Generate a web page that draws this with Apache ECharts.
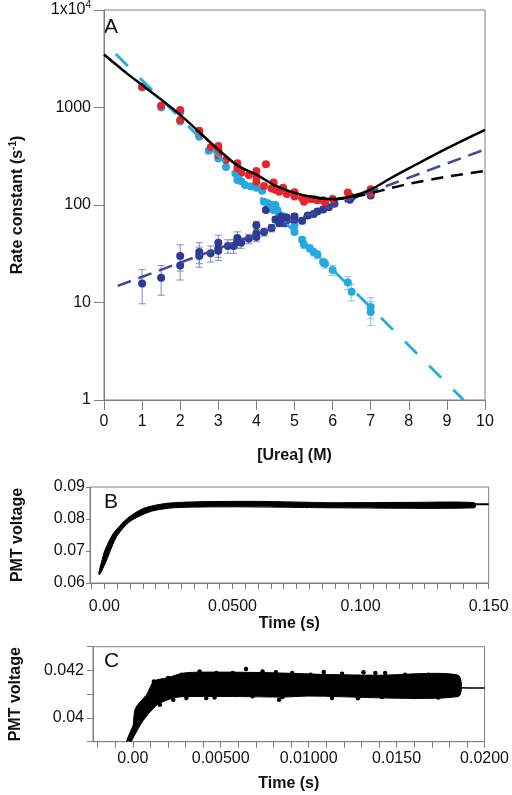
<!DOCTYPE html>
<html><head><meta charset="utf-8">
<script src="https://cdn.jsdelivr.net/npm/echarts@6/dist/echarts.min.js"></script>
<style>html,body{margin:0;padding:0;background:#fff}#c{width:512px;height:795px}</style>
</head><body><div id="c"></div>
<script>
// ---------- Panel A data ----------
const redX = [1.0,1.5,2.0,2.0,2.5,2.5,2.8,3.0,3.0,3.0,3.2,3.5,3.5,3.6,3.8,4.0,4.0,4.0,4.2,4.25,4.4,4.45,4.5,4.6,4.7,4.8,5.0,5.0,5.2,5.25,5.4,5.5,5.6,5.75,5.8,6.0,6.4,6.45,7.0,7.0];
const redY = [1630,1040,940,745,578,535,391,403,361,326,290,268,240,214,203,223,195,173,157,262,148,170,143,137,150,130,135,122,117,108,115,115,112,112,107,115,134,122,145,132];

const lightX = [1.0,1.5,2.0,2.0,2.5,2.5,2.75,3.0,3.0,3.2,3.45,3.5,3.6,3.7,3.85,4.0,4.15,4.2,4.3,4.4,4.45,4.5,4.55,4.6,4.75,5.0,5.0,5.2,5.25,5.4,5.5,5.6,5.75,5.8,6.0,6.4,6.5,7.0,7.0];
const lightY = [1600,1000,900,720,560,500,360,370,300,245,210,180,175,160,155,150,140,108,104,100,89,100,89,80,76,62,53,44,39,36,33,31,26,25,21.5,16,12.9,9.0,8.0];
const lightErr = [5,5,5,5,5,5,5,5,5,5,5,4,4,4,4,4,4,4,4,4,3,3,3,3,3,3,3,3,3,3,3,3,2.5,2.5,2.6,2.4,2.5,2.2,2.2];

const darkX = [1.0,1.5,2.0,2.0,2.5,2.5,2.8,3.0,3.0,3.0,3.25,3.4,3.5,3.5,3.6,3.8,4.0,4.0,4.0,4.2,4.25,4.4,4.5,4.6,4.65,4.75,4.8,5.0,5.0,5.2,5.35,5.5,5.6,5.75,5.9,6.05,6.45,6.5,7.0];
const darkY = [15.7,17.9,30,24,33,30,32,41,36,34,38,38,46,42,41,45,62,51,47,53,89,58,71,65,76,65,74,76,71,69,78,81,86,90,95,103,113,120,125];
const darkErr = [6,6,9,7,8,7,6,8,7,7,6,6,7,6,5,5,6,5,5,5,5,5,5,5,5,5,5,5,5,5,5,5,5,5,5,5,5,5,5];

const fitSolid = [[0,3500],[0.6,2240],[1,1700],[2,840],[3,370],[3.5,255],[4,205],[4.5,158],[5,133],[5.5,120],[6,115],[6.5,123],[7,144],[7.5,186],[8,237],[9,380],[10,588]];
const fitBlackDash = [[5.5,120],[6,114],[6.5,120],[7,132],[7.5,148],[8,165],[9,195],[10,223]];
const fitDarkDash = [[0.36,14.8],[10,372]];
const fitLightDash = [[0.31,3540],[9.44,1]];

// ---------- Panel B data ----------
const bUpper = [[-0.0020,0.0633],[-0.0010,0.0665],[0,0.0698],[0.0035,0.0755],[0.0088,0.0799],[0.0152,0.0833],[0.0244,0.0849],[0.0374,0.0854],[0.06,0.0855],[0.0895,0.0851],[0.12,0.0852],[0.1445,0.0851]];
const bLower = [[-0.0020,0.0625],[-0.0010,0.0638],[0.0009,0.0672],[0.0048,0.0745],[0.0100,0.0792],[0.0179,0.0823],[0.0270,0.0835],[0.0504,0.0838],[0.0895,0.0835],[0.1445,0.0835]];
const bFit = [[-0.002,0.0630],[0,0.0686],[0.005,0.0764],[0.01,0.0806],[0.015,0.0828],[0.02,0.0838],[0.03,0.0844],[0.05,0.0846],[0.15,0.0846]];
const bTicks = [-0.005,0,0.005,0.01,0.015,0.02,0.025,0.03,0.035,0.04,0.045,0.05,0.055,0.06,0.065,0.07,0.075,0.08,0.085,0.09,0.095,0.1,0.105,0.11,0.115,0.12,0.125,0.13,0.135,0.14,0.145,0.15];
const bLabelVals = [0,0.05,0.1,0.15];
const bLabelTexts = ['0.00','0.0500','0.100','0.150'];
const bYLabels = ['0.06','0.07','0.08','0.09'];

// ---------- Panel C data ----------
const cUpper = [[-0.0003,0.0391],[0,0.0396],[0.00015,0.0404],[0.0008,0.0410],[0.0012,0.04155],[0.0019,0.04168],[0.003,0.0419],[0.005,0.04193],[0.008,0.0419],[0.011,0.04183],[0.014,0.0418],[0.0185,0.0418]];
const cLower = [[-0.0001,0.0390],[0.00005,0.0392],[0.0006,0.0399],[0.0014,0.04056],[0.0023,0.04084],[0.003,0.0409],[0.006,0.0409],[0.0085,0.04088],[0.010,0.04092],[0.0185,0.0409]];
const cDots = [[0.0012,0.04154],[0.0038,0.04196],[0.00644,0.04206],[0.00738,0.04196],[0.00814,0.04192],[0.01086,0.04193],[0.01312,0.04192],[0.01379,0.04189],
  [0.00201,0.04168],[0.00277,0.04182],[0.00475,0.04189],[0.00568,0.04189],[0.00907,0.04189],[0.01011,0.04182],[0.0119,0.04186],[0.01435,0.04189],[0.01548,0.04182],[0.0168,0.04182],[0.01774,0.04178],
  [0.0006,0.04007],[0.00154,0.04056],[0.0023,0.04077],[0.00305,0.04084],[0.00418,0.04084],[0.00465,0.04086],[0.00681,0.04091],[0.00832,0.04077],[0.00851,0.04088],[0.01133,0.04084],[0.0128,0.04083],[0.01416,0.04088],[0.01605,0.04088],[0.01736,0.04086],[0.01755,0.04091]];
const cFit = [[-0.00034,0.0390],[0,0.0396],[0.0005,0.0402],[0.001,0.0406],[0.002,0.0410],[0.003,0.04125],[0.005,0.04135],[0.01,0.04132],[0.0185,0.04127],[0.02,0.04126]];
const cTicks = [-0.002,-0.001,0,0.001,0.002,0.003,0.004,0.005,0.006,0.007,0.008,0.009,0.01,0.011,0.012,0.013,0.014,0.015,0.016,0.017,0.018,0.019,0.02];
const cLabelVals = [0,0.005,0.01,0.015,0.02];
const cLabelTexts = ['0.00','0.00500','0.01000','0.0150','0.0200'];
const cYTicks = [0.039,0.040,0.041,0.042,0.043];
const cYLabelVals = [0.040,0.042];
const cYLabelTexts = ['0.04','0.042'];

// ---------- styling ----------
const FONT = 'Liberation Sans, Arial, sans-serif';
const AX = '#808080';
const RED = '#E4262C', LBLUE = '#25A8E0', DBLUE = '#2F3A93';
const lbl = (vals, texts) => v => { for (let i=0;i<vals.length;i++) if (Math.abs(vals[i]-v) < 1e-7) return texts[i]; return ''; };
const zip = (xs, ys) => xs.map((x,i)=>[x, ys[i]]);

function errSeries(xs, ys, errs, color, z) {
  return {
    type:'custom', xAxisIndex:0, yAxisIndex:0, z:z, silent:true,
    data: xs.map((x,i)=>[x, ys[i]-errs[i], ys[i]+errs[i]]),
    encode:{x:0, y:[1,2]},
    renderItem(params, api){
      const x = api.value(0);
      const p1 = api.coord([x, api.value(2)]), p2 = api.coord([x, api.value(1)]);
      const w = 3.5, st = {stroke:color, lineWidth:1};
      return {type:'group', children:[
        {type:'line', shape:{x1:p1[0],y1:p1[1],x2:p2[0],y2:p2[1]}, style:st},
        {type:'line', shape:{x1:p1[0]-w,y1:p1[1],x2:p1[0]+w,y2:p1[1]}, style:st},
        {type:'line', shape:{x1:p2[0]-w,y1:p2[1],x2:p2[0]+w,y2:p2[1]}, style:st}
      ]};
    }
  };
}
function bandSeries(upper, lower, axisIdx) {
  return {
    type:'custom', xAxisIndex:axisIdx, yAxisIndex:axisIdx, z:3, silent:true, clip:true,
    data:[[upper[0][0], upper[0][1]]],
    renderItem(params, api){
      const pts = upper.map(p=>api.coord(p)).concat(lower.slice().reverse().map(p=>api.coord(p)));
      return {type:'polygon', shape:{points:pts, smooth:0.25}, style:{fill:'#000', stroke:'#000', lineWidth:1}};
    }
  };
}
const axisCommon = {
  axisLine:{show:true, onZero:false, lineStyle:{color:AX, width:1}},
  splitLine:{show:false}
};
const nameStyle = {fontFamily:FONT, fontWeight:'bold', fontSize:16, color:'#111'};
const tickLabel = {fontFamily:FONT, fontSize:16, color:'#111'};

const option = {
  animation:false,
  backgroundColor:'#fff',
  grid:[
    {left:96, top:10, width:389, height:390, show:true, borderColor:AX, borderWidth:1, containLabel:false},
    {left:90, top:487, width:398.7, height:96, show:true, borderColor:AX, borderWidth:1},
    {left:92.7, top:646.7, width:394, height:95, show:true, borderColor:AX, borderWidth:1}
  ],
  xAxis:[
    Object.assign({}, axisCommon, {gridIndex:0, type:'value', min:0, max:10, interval:1,
      axisTick:{show:true, length:10, lineStyle:{color:AX}},
      axisLabel:Object.assign({}, tickLabel, {margin:14}),
      name:'[Urea] (M)', nameLocation:'middle', nameGap:48, nameTextStyle:nameStyle}),
    Object.assign({}, axisCommon, {gridIndex:1, type:'value', min:-0.0056, max:0.15,
      axisTick:{show:true, length:6, lineStyle:{color:AX}, customValues:bTicks},
      axisLabel:Object.assign({}, tickLabel, {margin:16, customValues:bLabelVals, formatter:lbl(bLabelVals,bLabelTexts), showMaxLabel:true}),
      name:'Time (s)', nameLocation:'middle', nameGap:27, nameTextStyle:nameStyle}),
    Object.assign({}, axisCommon, {gridIndex:2, type:'value', min:-0.00226, max:0.02,
      axisTick:{show:true, length:6, lineStyle:{color:AX}, customValues:cTicks},
      axisLabel:Object.assign({}, tickLabel, {margin:9, customValues:cLabelVals, formatter:lbl(cLabelVals,cLabelTexts), showMaxLabel:true}),
      name:'Time (s)', nameLocation:'middle', nameGap:34, nameTextStyle:nameStyle})
  ],
  yAxis:[
    Object.assign({}, axisCommon, {gridIndex:0, type:'log', logBase:10, min:1, max:10000,
      axisTick:{show:true, length:10, lineStyle:{color:AX}},
      axisLabel:Object.assign({}, tickLabel, {margin:13,
        formatter:v=>{const r=Math.round(v); return r===10000 ? '{n|1x10}{s|4}' : '{n|'+r+'}';},
        rich:{n:{fontFamily:FONT,fontSize:16,color:'#111'}, s:{fontFamily:FONT,fontSize:10,color:'#111',verticalAlign:'top',padding:[0,0,10,0]}}}),
      name:'{b|Rate constant (s}{s|-1}{b|)}', nameLocation:'middle', nameGap:76,
      nameTextStyle:Object.assign({}, nameStyle, {rich:{b:{fontFamily:FONT,fontWeight:'bold',fontSize:16,color:'#111'}, s:{fontFamily:FONT,fontWeight:'bold',fontSize:10,color:'#111',verticalAlign:'top',padding:[0,0,10,0]}}})}),
    Object.assign({}, axisCommon, {gridIndex:1, type:'value', min:0.06, max:0.09, interval:0.01,
      axisTick:{show:true, length:4, lineStyle:{color:AX}},
      axisLabel:Object.assign({}, tickLabel, {margin:5, formatter:v=>bYLabels[Math.round((v-0.06)*100)]}),
      name:'PMT voltage', nameLocation:'middle', nameGap:64, nameTextStyle:nameStyle}),
    Object.assign({}, axisCommon, {gridIndex:2, type:'value', min:0.039, max:0.043,
      axisTick:{show:true, length:6, lineStyle:{color:AX}, customValues:cYTicks},
      axisLabel:Object.assign({}, tickLabel, {margin:9, customValues:cYLabelVals, formatter:lbl(cYLabelVals,cYLabelTexts)}),
      name:'PMT voltage', nameLocation:'middle', nameGap:69, nameTextStyle:nameStyle})
  ],
  graphic:[
    {type:'text', left:104, top:17, style:{text:'A', font:'21px '+FONT, fill:'#111'}},
    {type:'text', left:104, top:492, style:{text:'B', font:'21px '+FONT, fill:'#111'}},
    {type:'text', left:104, top:651, style:{text:'C', font:'21px '+FONT, fill:'#111'}}
  ],
  series:[
    errSeries(lightX, lightY, lightErr, '#7FCBEA', 2),
    errSeries(darkX, darkY, darkErr, '#8088C2', 2),
    {type:'scatter', xAxisIndex:0, yAxisIndex:0, z:3, data:zip(lightX, lightY), symbolSize:8, itemStyle:{color:LBLUE, opacity:1}},
    {type:'scatter', xAxisIndex:0, yAxisIndex:0, z:4, data:zip(darkX, darkY), symbolSize:8, itemStyle:{color:DBLUE, opacity:1}},
    {type:'scatter', xAxisIndex:0, yAxisIndex:0, z:5, data:zip(redX, redY), symbolSize:8, itemStyle:{color:RED, opacity:1}},
    {type:'line', xAxisIndex:0, yAxisIndex:0, z:6, data:fitLightDash, showSymbol:false, lineStyle:{color:'#2BA9E0', width:2.8, type:[17,17]}},
    {type:'line', xAxisIndex:0, yAxisIndex:0, z:6, data:fitDarkDash, showSymbol:false, lineStyle:{color:'#3A4A9C', width:2.5, type:[14,8]}},
    {type:'line', xAxisIndex:0, yAxisIndex:0, z:6, data:fitBlackDash, showSymbol:false, smooth:0.3, lineStyle:{color:'#000', width:2.5, type:[12,8]}},
    {type:'line', xAxisIndex:0, yAxisIndex:0, z:7, data:fitSolid, showSymbol:false, smooth:0.3, lineStyle:{color:'#000', width:2.5}},
    bandSeries(bUpper, bLower, 1),
    {type:'line', xAxisIndex:1, yAxisIndex:1, z:4, data:bFit, showSymbol:false, smooth:0.3, lineStyle:{color:'#000', width:2}},
    bandSeries(cUpper, cLower, 2),
    {type:'scatter', xAxisIndex:2, yAxisIndex:2, z:4, data:cDots, symbolSize:4.5, itemStyle:{color:'#000', opacity:1}},
    {type:'line', xAxisIndex:2, yAxisIndex:2, z:4, data:cFit, showSymbol:false, smooth:0.3, lineStyle:{color:'#000', width:1.5}}
  ]
};
const chart = echarts.init(document.getElementById('c'), null, {renderer:'canvas'});
chart.setOption(option);
</script>
</body></html>
